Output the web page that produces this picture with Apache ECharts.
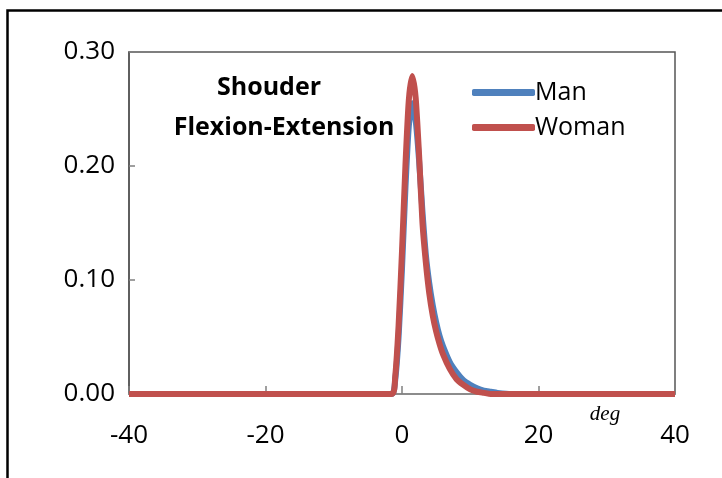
<!DOCTYPE html>
<html>
<head>
<meta charset="utf-8">
<script src="https://cdn.jsdelivr.net/npm/echarts@6/dist/echarts.min.js"></script>
<style>html,body{margin:0;padding:0;background:#fff;}#c{width:722px;height:478px;}</style>
</head>
<body>
<div id="c"></div>
<script>
// Data
const seriesNames = ['Man', 'Woman'];
const xTickLabels = ['-40', '-20', '0', '20', '40'];
const yTickLabels = ['0.00', '0.10', '0.20', '0.30'];
const manX = [-40, -1.5, -1, -0.5, 0, 0.5, 1, 1.5, 2, 2.5, 3, 3.5, 4, 4.5, 5, 5.5, 6, 7, 8, 9, 10, 11, 12, 13, 14, 16, 40];
const manY = [0, 0, 0.012, 0.05, 0.11, 0.18, 0.235, 0.255, 0.24, 0.205, 0.16, 0.122, 0.097, 0.078, 0.063, 0.051, 0.042, 0.028, 0.019, 0.012, 0.008, 0.005, 0.003, 0.002, 0.001, 0, 0];
const womanX = [-40, -1.5, -1, -0.5, 0, 0.5, 1, 1.5, 2, 2.5, 3, 3.5, 4, 4.5, 5, 5.5, 6, 7, 8, 9, 10, 11, 12, 13, 40];
const womanY = [0, 0, 0.015, 0.06, 0.125, 0.2, 0.258, 0.279, 0.26, 0.21, 0.15, 0.115, 0.088, 0.069, 0.055, 0.044, 0.035, 0.022, 0.013, 0.008, 0.004, 0.002, 0.001, 0, 0];
const titleLines = ['Shouder', 'Flexion-Extension'];
const xUnit = 'deg';

const pairs = (xs, ys) => xs.map((x, i) => [x, ys[i]]);
const chart = echarts.init(document.getElementById('c'), null, {renderer: 'canvas'});
const FONT = '"Open Sans", sans-serif';
chart.setOption({
  animation: false,
  backgroundColor: '#fff',
  grid: {left: 129, right: 47, top: 52, bottom: 84, show: true, borderColor: '#555', borderWidth: 1.5, backgroundColor: 'transparent'},
  xAxis: {
    type: 'value', min: -40, max: 40, interval: 20,
    axisLine: {show: true, onZero: false, lineStyle: {color: '#8c8c8c', width: 2}},
    axisTick: {show: true, inside: true, length: 8, lineStyle: {color: '#808080', width: 1.5}},
    axisLabel: {margin: 29, fontSize: 26, color: '#000', fontFamily: FONT,
      formatter: v => xTickLabels[Math.round((v + 40) / 20)]},
    splitLine: {show: false}
  },
  yAxis: {
    type: 'value', min: 0, max: 0.3, interval: 0.1,
    axisLine: {show: true, onZero: false, lineStyle: {color: '#555', width: 1.5}},
    axisTick: {show: true, inside: true, length: 6, lineStyle: {color: '#808080', width: 1.5}},
    axisLabel: {margin: 14, fontSize: 26, color: '#000', fontFamily: FONT,
      formatter: v => yTickLabels[Math.round(v * 10)]},
    splitLine: {show: false}
  },
  legend: {
    orient: 'vertical', left: 467, top: 75, itemWidth: 63, itemHeight: 7, itemGap: 10,
    icon: 'roundRect',
    textStyle: {fontSize: 25, color: '#000', fontFamily: FONT, padding: [0, 0, 0, -5]},
    data: seriesNames
  },
  graphic: [
    {type: 'rect', left: 5, top: 8, shape: {width: 900, height: 700}, style: {fill: 'none', stroke: '#000', lineWidth: 2.5}, silent: true},
    {type: 'text', x: 269, y: 88, style: {text: titleLines[0], font: 'bold 25px "Open Sans", sans-serif', fill: '#000', textAlign: 'center', textVerticalAlign: 'middle'}},
    {type: 'text', x: 284, y: 128, style: {text: titleLines[1], font: 'bold 25px "Open Sans", sans-serif', fill: '#000', textAlign: 'center', textVerticalAlign: 'middle'}},
    {type: 'text', x: 605, y: 414, style: {text: xUnit, font: 'italic 21px "Liberation Serif", serif', fill: '#000', textAlign: 'center', textVerticalAlign: 'middle'}}
  ],
  series: [
    {name: seriesNames[0], type: 'line', data: pairs(manX, manY), showSymbol: false, smooth: 0.2,
      lineStyle: {color: '#4f81bd', width: 6}, itemStyle: {color: '#4f81bd'}, z: 3},
    {name: seriesNames[1], type: 'line', data: pairs(womanX, womanY), showSymbol: false, smooth: 0.2,
      lineStyle: {color: '#c0504d', width: 6}, itemStyle: {color: '#c0504d'}, z: 4}
  ]
});
</script>
</body>
</html>
